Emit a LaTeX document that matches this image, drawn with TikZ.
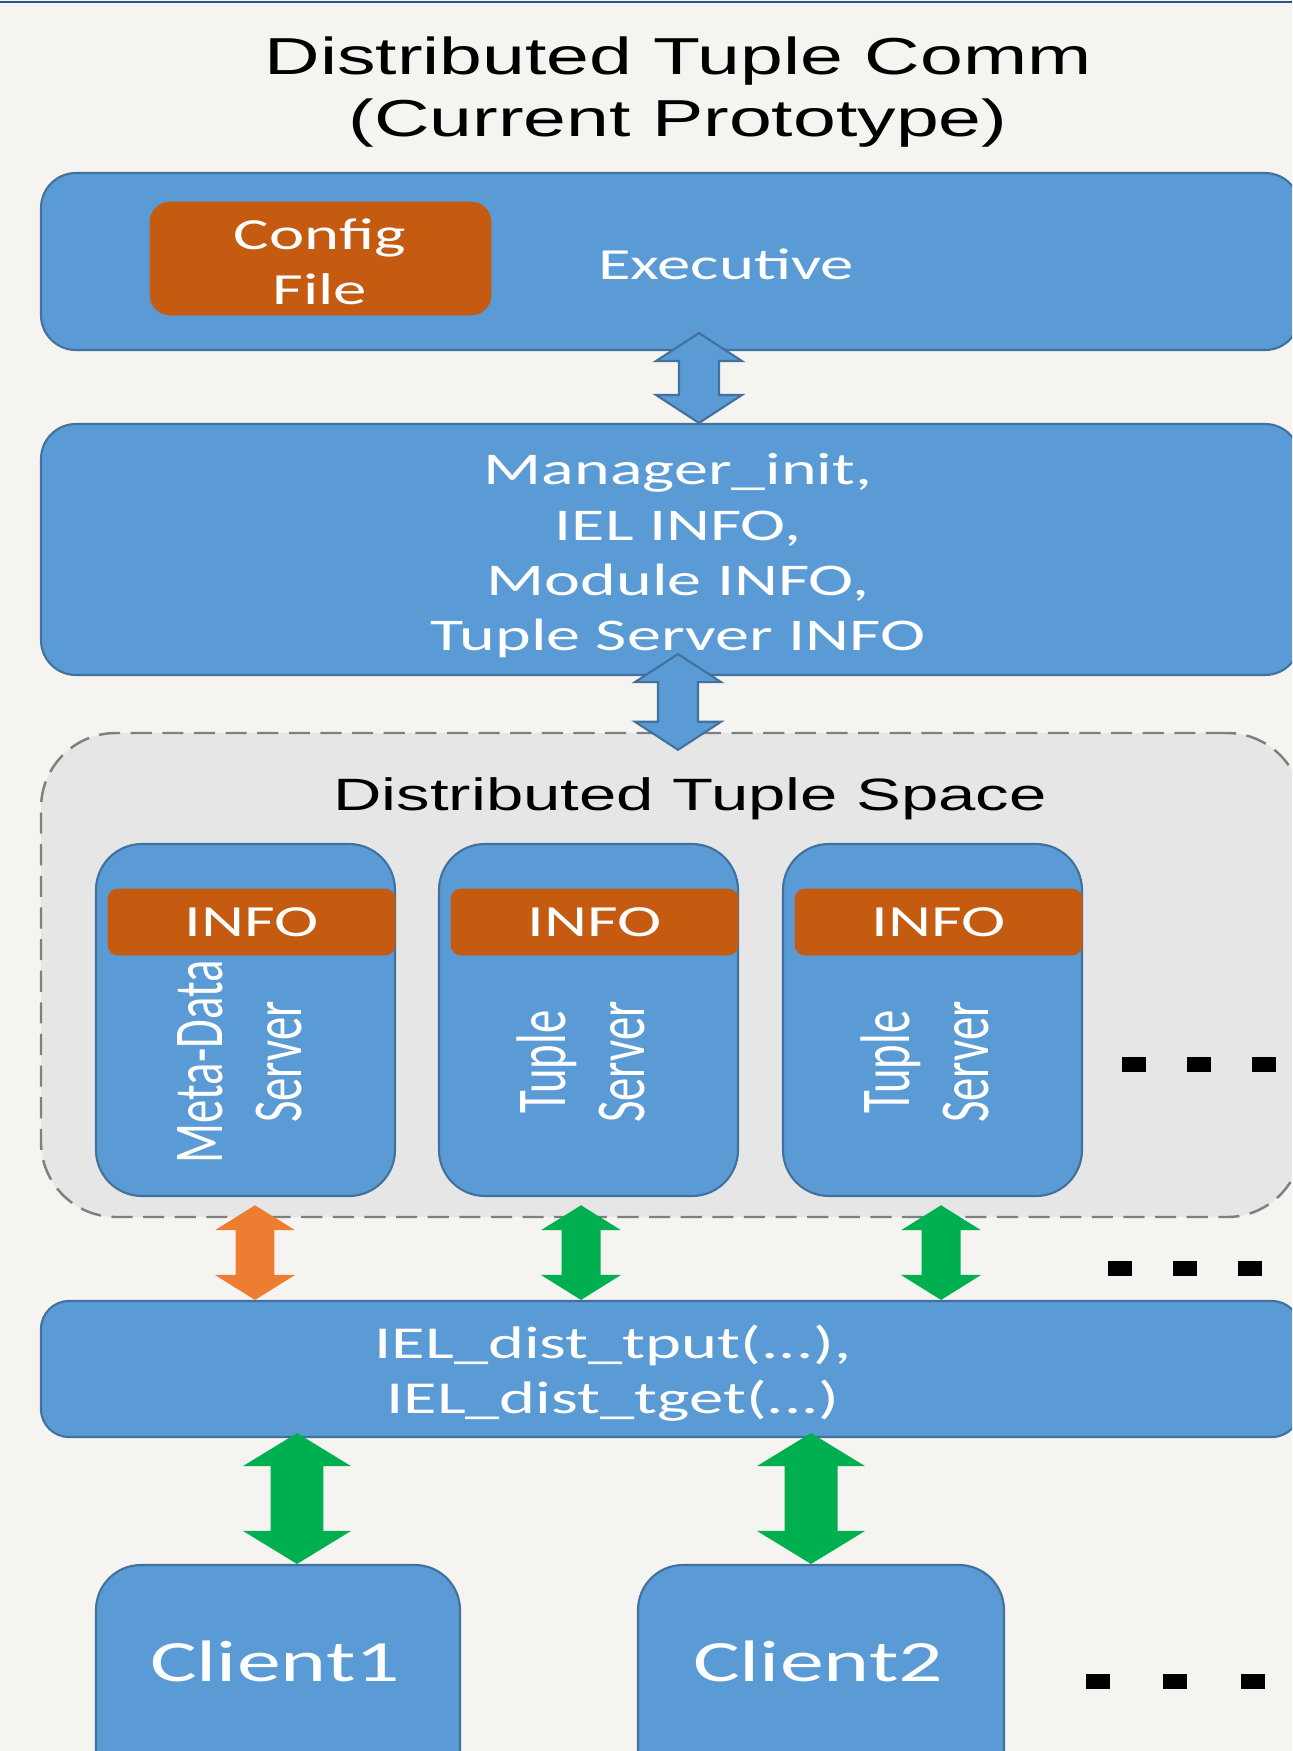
\documentclass[tikz,border=0pt]{standalone}
\usepackage{fontspec}
\setmainfont{Carlito}
\newfontfamily\plainC{Carlito}
\newfontfamily\wideC[FakeStretch=1.5]{Carlito}
\newfontfamily\wideA[FakeStretch=1.48]{Liberation Sans}
\usetikzlibrary{calc,fit}

\definecolor{bg}{HTML}{F5F4F0}
\definecolor{boxblue}{HTML}{5B9BD5}
\definecolor{boxedge}{HTML}{41719C}
\definecolor{rust}{HTML}{C55A11}
\definecolor{ltorange}{HTML}{ED7D31}
\definecolor{okgreen}{HTML}{00B050}
\definecolor{dtsgray}{HTML}{E6E6E6}
\definecolor{dashgray}{HTML}{7F7F7F}
\definecolor{topline}{HTML}{2F528F}

% block double arrow: style, top point, bottom point, half shaft, half head, head length
\newcommand\blockarrow[6]{%
  \path[#1] let \p1=#2, \p2=#3 in
    (\x1,\y1) -- (\x1+#5,\y1-#6) -- (\x1+#4,\y1-#6) -- (\x1+#4,\y2+#6)
    -- (\x1+#5,\y2+#6) -- (\x1,\y2) -- (\x1-#5,\y2+#6) -- (\x1-#4,\y2+#6)
    -- (\x1-#4,\y1-#6) -- (\x1-#5,\y1-#6) -- cycle;}

\begin{document}
\begin{tikzpicture}[x=0.02cm, y=-0.02cm,
    box/.style={draw=boxedge, line width=1.2pt, fill=boxblue, inner sep=0pt},
    infotag/.style={fill=rust, draw=rust, inner sep=0pt},
    lbl/.style={text=white, inner sep=0pt, align=center,
      font=\wideC\fontsize{25.3}{31.5}\selectfont},
    vlbl/.style={text=white, inner sep=0pt, rotate=90,
      font=\plainC\fontsize{26.6}{30.2}\selectfont},
    heading/.style={inner sep=0pt, align=center,
      font=\wideA\fontsize{29.6}{35.1}\selectfont},
    dtsbox/.style={draw=dashgray, line width=1.4pt, dash pattern=on 12pt off 6pt,
      fill=dtsgray, rounded corners=1.5cm, inner sep=0pt},
    bluearrow/.style={fill=boxblue, draw=boxedge, line width=1.2pt},
    greenarrow/.style={fill=okgreen},
    orangearrow/.style={fill=ltorange}]

  \path[use as bounding box, clip] (0,0) rectangle (1292,1751);
  \fill[bg] (0,0) rectangle (1292,1751);
  \draw[topline, line width=1.2pt] (0,2) -- (1292,2);

  \node[heading] (title) at (678,92) {Distributed Tuple Comm\\(Current Prototype)};

  % executive
  \node[box, rounded corners=0.7cm, fit={(41,173) (1300,350)}] (exec) {};
  \node[infotag, rounded corners=0.4cm, fit={(150,202) (491,315)}] (cfg) {};
  \node[lbl] (cfgtxt) at (320,262) {Config\\File};
  \node[lbl] (exectxt) at (726,264) {Executive};

  % manager
  \node[box, rounded corners=0.7cm, fit={(41,424) (1300,675)}] (mgr) {};
  \node[lbl, font=\wideC\fontsize{25.8}{31.5}\selectfont] (mgrtxt) at (678,556)
    {Manager\_init,\\IEL INFO,\\Module INFO,\\Tuple Server INFO};

  % tuple space
  \node[dtsbox, fit={(41,733) (1302,1217)}] (dts) {};
  \node[heading, font=\wideA\fontsize{25.8}{30}\selectfont] (dtstxt) at (690,799) {Distributed Tuple Space};

  \foreach \i/\xa/\nm in {1/96/Meta-Data, 2/439/Tuple, 3/783/Tuple} {
    \node[box, rounded corners=0.92cm, fit={(\xa,844) (\xa+299,1196)}] (srv\i) {};
    \node[infotag, rounded corners=0.2cm, fit={(\xa+12,889) (\xa+299,955)}] (info\i) {};
    \node[lbl] (infotxt\i) at (info\i.center) {INFO};
    \node[vlbl] (srvtxt\i) at (\xa+150,1062)
      {\scalebox{1}[1.5]{\begin{tabular}{@{}c@{}}\nm\\Server\end{tabular}}};
  }

  % more servers / more clients
  \foreach \x/\y in {1134/1064, 1199/1064, 1264/1064, 1120/1268, 1185/1268, 1250/1268,
                     1098/1681, 1175/1681, 1253/1681}
    \fill (\x-12,\y-7.5) rectangle (\x+12,\y+7.5);

  % IEL calls
  \node[box, rounded corners=0.56cm, fit={(41,1301) (1300,1437)}] (iel) {};
  \node[lbl, font=\wideC\fontsize{26}{31.5}\selectfont] (ieltxt) at (613,1373)
    {IEL\_dist\_tput(...),\\IEL\_dist\_tget(...)};

  % clients
  \node[box, rounded corners=0.9cm, fit={(96,1565) (460,1800)}] (cl1) {};
  \node[lbl, font=\wideC\fontsize{33.3}{40}\selectfont] (cl1txt) at (275,1661) {Client1};
  \node[box, rounded corners=0.9cm, fit={(638,1565) (1004,1800)}] (cl2) {};
  \node[lbl, font=\wideC\fontsize{33.3}{40}\selectfont] (cl2txt) at (818,1661) {Client2};

  % arrows
  \coordinate (ax1) at (699,0);
  \coordinate (ax2) at (678,0);
  \coordinate (ax3) at (255,0);
  \coordinate (ax4) at (581,0);
  \coordinate (ax5) at (941,0);
  \coordinate (ax6) at (297,0);
  \coordinate (ax7) at (811,0);

  \blockarrow{bluearrow}{($(exec.south -| ax1)+(0,-18)$)}{(mgr.north -| ax1)}{0.4cm}{0.86cm}{0.56cm}
  \blockarrow{bluearrow}{($(mgr.south -| ax2)+(0,-22)$)}{($(dts.north -| ax2)+(0,18)$)}{0.4cm}{0.86cm}{0.56cm}
  \blockarrow{orangearrow}{($(dts.south -| ax3)+(0,-13)$)}{(iel.north -| ax3)}{0.39cm}{0.8cm}{0.5cm}
  \blockarrow{greenarrow}{($(dts.south -| ax4)+(0,-13)$)}{(iel.north -| ax4)}{0.39cm}{0.8cm}{0.5cm}
  \blockarrow{greenarrow}{($(dts.south -| ax5)+(0,-13)$)}{(iel.north -| ax5)}{0.39cm}{0.8cm}{0.5cm}
  \blockarrow{greenarrow}{($(iel.south -| ax6)+(0,-5)$)}{(cl1.north -| ax6)}{0.53cm}{1.08cm}{0.66cm}
  \blockarrow{greenarrow}{($(iel.south -| ax7)+(0,-5)$)}{(cl2.north -| ax7)}{0.53cm}{1.08cm}{0.66cm}

\end{tikzpicture}
\end{document}
